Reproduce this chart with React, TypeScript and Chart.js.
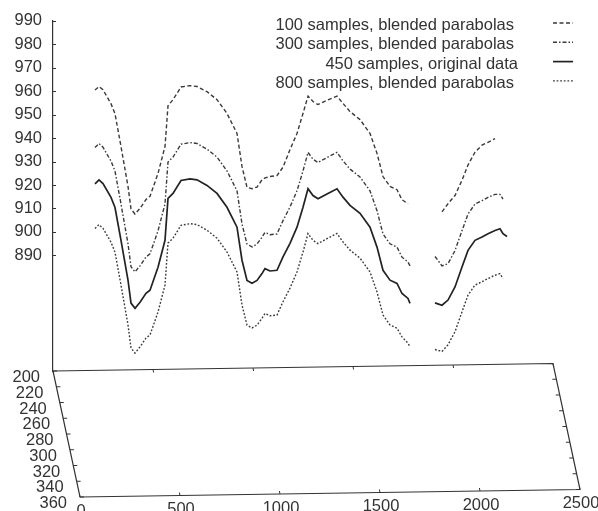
import React, { useEffect, useRef } from "react";
import { Chart, registerables } from "chart.js";

Chart.register(...registerables);

// x positions (shared grid; null values mark gaps)
const X_VALUES = [210,230,250,290,310,340,375,390,410,435,465,485,525,560,575,600,640,685,720,770,820,870,920,945,970,995,1020,1045,1060,1085,1120,1150,1185,1220,1250,1275,1300,1325,1370,1420,1450,1485,1535,1585,1620,1650,1685,1720,1745,1775,1785,1850,1910,1945,1975,2010,2045,2075,2110,2145,2175,2210,2235,2250,2270];

const S100 = [960.5,962.0,960.6,954.7,950.4, 936.4,919.4,909.8,907.6,910.0, 913.8,915.2,924.9,936.4,953.8, 956.4,961.8,962.4,962.0,959.8, 956.4,950.5,942.0,927.9,919.0, 918.4,919.1,922.2,923.0,923.6, 924.0,927.6,935.1,942.0,950.5, 957.9,955.6,954.3,956.1,957.9, 954.8,951.3,947.9,942.0,933.5, 923.6,919.4,918.0,913.7,912.0, null,null,null,908.5,912.0, 915.5,922.0,928.5,934.0,937.0, 938.2,939.8,null,null,null];

const S300 = [936.0,937.7,936.1,930.2,925.9, 911.9,894.9,885.1,882.9,885.5, 889.3,890.6,900.4,911.9,929.8, 931.9,937.4,938.1,937.7,935.3, 931.9,926.0,917.5,903.4,894.8, 893.6,894.8,897.7,899.8,898.8, 899.1,904.8,910.6,917.5,926.0, 933.9,931.0,929.6,931.7,933.9, 930.3,926.8,923.4,917.5,909.0, 899.1,894.9,893.5,889.2,887.1, 885.5,null,889.5,885.5,886.4, 892.0,900.5,907.6,911.9,913.3, 914.7,916.0,916.0,914.0,null];

const S450 = [920.5,922.2,920.6,914.7,910.4, 896.4,879.4,869.6,867.4,870.0, 873.8,875.1,884.9,896.4,914.3, 916.4,921.9,922.6,922.2,919.8, 916.4,910.5,902.0,887.9,879.3, 878.1,879.3,882.2,884.3,883.3, 883.6,889.3,895.1,902.0,910.5, 918.4,915.5,914.1,916.2,918.4, 914.8,911.3,907.9,902.0,893.5, 883.6,879.4,878.0,873.7,871.6, 869.5,null,869.7,868.7,870.9, 876.5,885.0,892.1,896.4,897.8, 899.2,900.6,901.3,899.2,898.0];

const S800 = [901.4,903.1,901.5,895.6,891.3, 877.3,860.3,850.5,848.3,850.9, 854.7,856.0,865.8,877.3,895.2, 897.3,902.8,903.5,903.1,900.7, 897.3,891.4,882.9,868.8,860.2, 859.0,860.2,863.1,865.2,864.2, 864.5,870.2,876.0,882.9,891.4, 899.3,896.4,895.0,897.1,899.3, 895.7,892.2,888.8,882.9,874.4, 864.5,860.3,858.9,855.2,852.5, 851.0,null,849.8,849.0,851.8, 857.4,865.9,873.0,877.3,878.7, 880.1,881.5,882.2,880.1,null];

const SERIES_LABELS = [
  "100 samples, blended parabolas",
  "300 samples, blended parabolas",
  "450 samples, original data",
  "800 samples, blended parabolas",
];

const Z_TICKS = [890, 900, 910, 920, 930, 940, 950, 960, 970, 980, 990];
const X_TICKS = [0, 500, 1000, 1500, 2000, 2500];
const DEPTH_TICKS = [200, 220, 240, 260, 280, 300, 320, 340, 360];

const FONT = '"Liberation Sans", Arial, sans-serif';
const FONT_SIZE = 16.5;
const INK = "#333333";

const DASHES = [[4, 2.5], [4, 2, 1.5, 2], [], [1.8, 1.8]];
const WIDTHS = [1.4, 1.4, 1.7, 1.4];
const COLORS = ["#3a3a3a", "#3a3a3a", "#222222", "#3a3a3a"];

const framePlugin = {
  id: "gnuplotFrame",
  afterDraw(chart: any) {
    const ctx = chart.ctx;
    const xs = chart.scales.x;
    const ys = chart.scales.y;
    const TILT = -7.5;
    const DX = 27;
    const DY = 126;
    const d0 = DEPTH_TICKS[0];
    const d1 = DEPTH_TICKS[DEPTH_TICKS.length - 1];
    const baseY = ys.getPixelForValue(ys.min);
    const back = (v: number) => [
      xs.getPixelForValue(v),
      baseY + (TILT * (v - xs.min)) / (xs.max - xs.min),
    ];
    const at = (v: number, d: number) => {
      const [px, py] = back(v);
      const t = (d - d0) / (d1 - d0);
      return [px + DX * t, py + DY * t];
    };
    ctx.save();
    ctx.strokeStyle = INK;
    ctx.lineWidth = 1.2;
    ctx.setLineDash([]);
    // floor outline
    const bl = at(xs.min, d0), br = at(xs.max, d0), fr = at(xs.max, d1), fl = at(xs.min, d1);
    ctx.beginPath();
    ctx.moveTo(bl[0], bl[1]);
    ctx.lineTo(br[0], br[1]);
    ctx.lineTo(fr[0], fr[1]);
    ctx.lineTo(fl[0], fl[1]);
    ctx.closePath();
    ctx.stroke();

    ctx.lineWidth = 1;
    // z ticks (inward)
    Z_TICKS.forEach((v) => {
      const y = Math.round(ys.getPixelForValue(v)) + 0.5;
      ctx.beginPath();
      ctx.moveTo(xs.left, y);
      ctx.lineTo(xs.left + 3, y);
      ctx.stroke();
    });
    // x ticks on back and front edges
    X_TICKS.forEach((v) => {
      const b = at(v, d0);
      const f = at(v, d1);
      ctx.beginPath();
      ctx.moveTo(b[0], b[1]);
      ctx.lineTo(b[0] + 0.6, b[1] + 3);
      ctx.moveTo(f[0], f[1]);
      ctx.lineTo(f[0] - 0.6, f[1] - 3);
      ctx.stroke();
    });
    // depth ticks on left and right edges
    DEPTH_TICKS.forEach((d) => {
      const l = at(xs.min, d);
      const r = at(xs.max, d);
      ctx.beginPath();
      ctx.moveTo(l[0], l[1]);
      ctx.lineTo(l[0] + 4, l[1]);
      ctx.moveTo(r[0], r[1]);
      ctx.lineTo(r[0] - 4, r[1]);
      ctx.stroke();
    });

    ctx.fillStyle = INK;
    ctx.font = `${FONT_SIZE}px ${FONT}`;
    ctx.textBaseline = "alphabetic";
    // x labels on front edge
    ctx.textAlign = "center";
    X_TICKS.forEach((v) => {
      const f = at(v, d1);
      ctx.fillText(String(v), f[0] + 1, f[1] + 18.5);
    });
    // depth labels on left edge
    ctx.textAlign = "right";
    DEPTH_TICKS.forEach((d) => {
      const l = at(xs.min, d);
      ctx.fillText(String(d), l[0] - 13, l[1] + 11);
    });

    // legend
    const rowY = [24, 43.3, 62.6, 81.9];
    const textRight = [514, 514, 518, 514];
    chart.data.datasets.forEach((ds: any, i: number) => {
      ctx.textAlign = "right";
      ctx.fillStyle = INK;
      ctx.fillText(ds.label, textRight[i], rowY[i] + 5.9);
      ctx.beginPath();
      ctx.setLineDash(DASHES[i]);
      ctx.lineWidth = WIDTHS[i];
      ctx.strokeStyle = COLORS[i];
      ctx.moveTo(553, rowY[i] - 1);
      ctx.lineTo(573, rowY[i] - 1);
      ctx.stroke();
    });
    ctx.restore();
  },
};

export default function App() {
  const canvasRef = useRef<HTMLCanvasElement | null>(null);

  useEffect(() => {
    if (!canvasRef.current) return;
    const series = [S100, S300, S450, S800];
    const chart = new Chart(canvasRef.current, {
      type: "line",
      data: {
        datasets: series.map((s, i) => ({
          label: SERIES_LABELS[i],
          data: X_VALUES.map((x, j) => ({ x, y: s[j] })),
          borderColor: COLORS[i],
          borderWidth: WIDTHS[i],
          borderDash: DASHES[i],
          pointRadius: 0,
          fill: false,
          tension: 0,
          spanGaps: false,
        })),
      },
      options: {
        responsive: false,
        animation: false,
        devicePixelRatio: 1,
        layout: { padding: { left: 0, right: 45, top: 20, bottom: 140 } },
        plugins: { legend: { display: false }, tooltip: { enabled: false } },
        events: [],
        scales: {
          x: { type: "linear", min: 0, max: 2500, display: false },
          y: {
            type: "linear",
            min: 840.64,
            max: 990,
            afterBuildTicks: (s: any) => {
              s.ticks = Z_TICKS.map((v) => ({ value: v }));
            },
            afterFit: (s: any) => {
              s.width = 53;
            },
            grid: { display: false, drawTicks: false },
            border: { display: true, color: INK, width: 1.2 },
            ticks: {
              autoSkip: false,
              padding: 11,
              color: INK,
              font: { family: FONT, size: FONT_SIZE },
            },
          },
        },
      },
      plugins: [framePlugin],
    } as any);
    return () => chart.destroy();
  }, []);

  return (
    <canvas
      ref={canvasRef}
      width={598}
      height={511}
      style={{ position: "fixed", left: 0, top: 0, display: "block", width: 598, height: 511, background: "#fff" }}
    />
  );
}
